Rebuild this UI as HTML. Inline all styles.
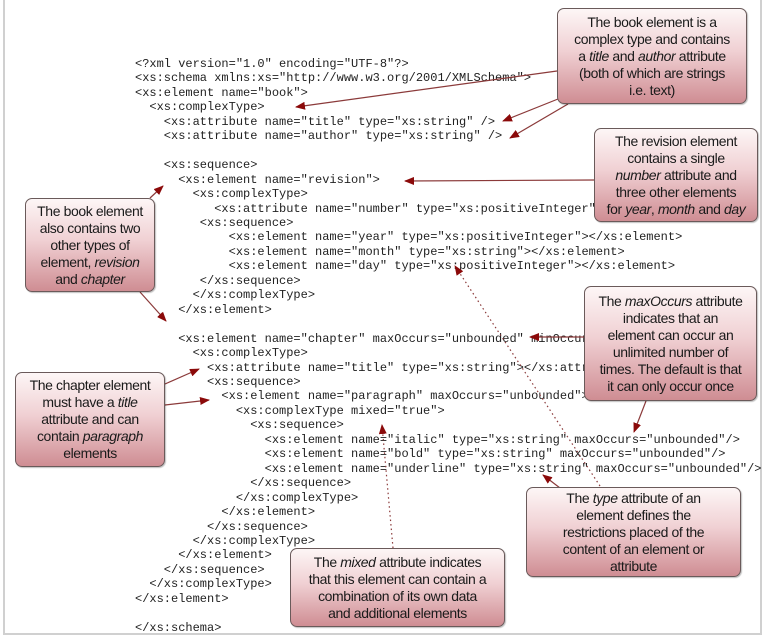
<!DOCTYPE html>
<html><head><meta charset="utf-8"><style>
body{margin:0;width:768px;height:641px;background:#fff;position:relative;overflow:hidden;font-family:"Liberation Sans",sans-serif}
.frame{position:absolute;left:3px;top:-2px;width:759px;height:637px;border:2px solid #d0d0d0;box-sizing:border-box}
pre{position:absolute;left:135px;top:57px;margin:0;font-family:"Liberation Mono",monospace;font-size:12px;line-height:14.45px;color:#222}
svg{position:absolute;left:0;top:0}
.b{position:absolute;box-sizing:border-box;border:1px solid #6a5a5a;border-radius:7px;background:linear-gradient(#fdf6f6,#f0d0d3 45%,#cf8d93);color:#1a1a1a;font-size:14px;letter-spacing:-0.4px;line-height:17px;text-align:center;display:flex;align-items:center;justify-content:center;padding:0;white-space:nowrap;box-shadow:1px 1px 1px rgba(0,0,0,.25)}
.b>div{display:block;width:100%}
</style></head><body>
<div class="frame"></div>
<pre>&lt;?xml version="1.0" encoding="UTF-8"?&gt;
&lt;xs:schema xmlns:xs="http://www.w3.org/2001/XMLSchema"&gt;
&lt;xs:element name="book"&gt;
  &lt;xs:complexType&gt;
    &lt;xs:attribute name="title" type="xs:string" /&gt;
    &lt;xs:attribute name="author" type="xs:string" /&gt;

    &lt;xs:sequence&gt;
      &lt;xs:element name="revision"&gt;
        &lt;xs:complexType&gt;
           &lt;xs:attribute name="number" type="xs:positiveInteger"&gt;&lt;/xs:attribute&gt;
         &lt;xs:sequence&gt;
             &lt;xs:element name="year" type="xs:positiveInteger"&gt;&lt;/xs:element&gt;
             &lt;xs:element name="month" type="xs:string"&gt;&lt;/xs:element&gt;
             &lt;xs:element name="day" type="xs:positiveInteger"&gt;&lt;/xs:element&gt;
         &lt;/xs:sequence&gt;
        &lt;/xs:complexType&gt;
      &lt;/xs:element&gt;

      &lt;xs:element name="chapter" maxOccurs="unbounded" minOccurs="0"&gt;
        &lt;xs:complexType&gt;
          &lt;xs:attribute name="title" type="xs:string"&gt;&lt;/xs:attribute&gt;
          &lt;xs:sequence&gt;
            &lt;xs:element name="paragraph" maxOccurs="unbounded"&gt;
              &lt;xs:complexType mixed="true"&gt;
                &lt;xs:sequence&gt;
                  &lt;xs:element name="italic" type="xs:string" maxOccurs="unbounded"/&gt;
                  &lt;xs:element name="bold" type="xs:string" maxOccurs="unbounded"/&gt;
                  &lt;xs:element name="underline" type="xs:string" maxOccurs="unbounded"/&gt;
                &lt;/xs:sequence&gt;
              &lt;/xs:complexType&gt;
            &lt;/xs:element&gt;
          &lt;/xs:sequence&gt;
        &lt;/xs:complexType&gt;
      &lt;/xs:element&gt;
    &lt;/xs:sequence&gt;
  &lt;/xs:complexType&gt;
&lt;/xs:element&gt;

&lt;/xs:schema&gt;</pre>
<svg width="768" height="641">
<defs><marker id="a" markerWidth="10" markerHeight="8" refX="9" refY="4" orient="auto" markerUnits="userSpaceOnUse"><path d="M0,0L10,4L0,8z" fill="#8b0a0a"/></marker></defs>
<g stroke="#8b3a3a" stroke-width="1.2" fill="none" marker-end="url(#a)">
<line x1="557" y1="71" x2="296" y2="107"/>
<line x1="558" y1="99" x2="503" y2="121"/>
<line x1="568" y1="104" x2="510" y2="138"/>
<line x1="594" y1="180" x2="405" y2="181"/>
<line x1="150" y1="198" x2="163" y2="186"/>
<line x1="140" y1="292" x2="166" y2="321"/>
<line x1="165" y1="384" x2="199" y2="369"/>
<line x1="165" y1="405" x2="209" y2="400"/>
<line x1="584" y1="337" x2="530" y2="337"/>
<line x1="646" y1="401" x2="634" y2="432"/>
<line x1="560" y1="488" x2="543" y2="475"/>
</g>
<g stroke="#8b3a3a" stroke-width="1.2" fill="none" stroke-dasharray="1.5,3" marker-end="url(#a)">
<line x1="393" y1="548" x2="382" y2="425"/>
<line x1="600" y1="486" x2="455" y2="266"/>
</g>
</svg>
<div class="b" style="left:557px;top:8px;width:190px;height:96px"><div>The book element is a<br>complex type and contains<br>a <i>title</i> and <i>author</i> attribute<br>(both of which are strings<br>i.e. text)</div></div>
<div class="b" style="left:594px;top:128px;width:164px;height:94px"><div>The revision element<br>contains a single<br><i>number</i> attribute and<br>three other elements<br>for <i>year</i>, <i>month</i> and <i>day</i></div></div>
<div class="b" style="left:25px;top:198px;width:130px;height:94px"><div>The book element<br>also contains two<br>other types of<br>element, <i>revision</i><br>and <i>chapter</i></div></div>
<div class="b" style="left:584px;top:286px;width:173px;height:115px"><div>The <i>maxOccurs</i> attribute<br>indicates that an<br>element can occur an<br>unlimited number of<br>times. The default is that<br>it can only occur once</div></div>
<div class="b" style="left:15px;top:372px;width:150px;height:95px"><div>The chapter element<br>must have a <i>title</i><br>attribute and can<br>contain <i>paragraph</i><br>elements</div></div>
<div class="b" style="left:526px;top:487px;width:215px;height:90px"><div>The <i>type</i> attribute of an<br>element defines the<br>restrictions placed of the<br>content of an element or<br>attribute</div></div>
<div class="b" style="left:290px;top:548px;width:215px;height:79px"><div>The <i>mixed</i> attribute indicates<br>that this element can contain a<br>combination of its own data<br>and additional elements</div></div>
</body></html>
